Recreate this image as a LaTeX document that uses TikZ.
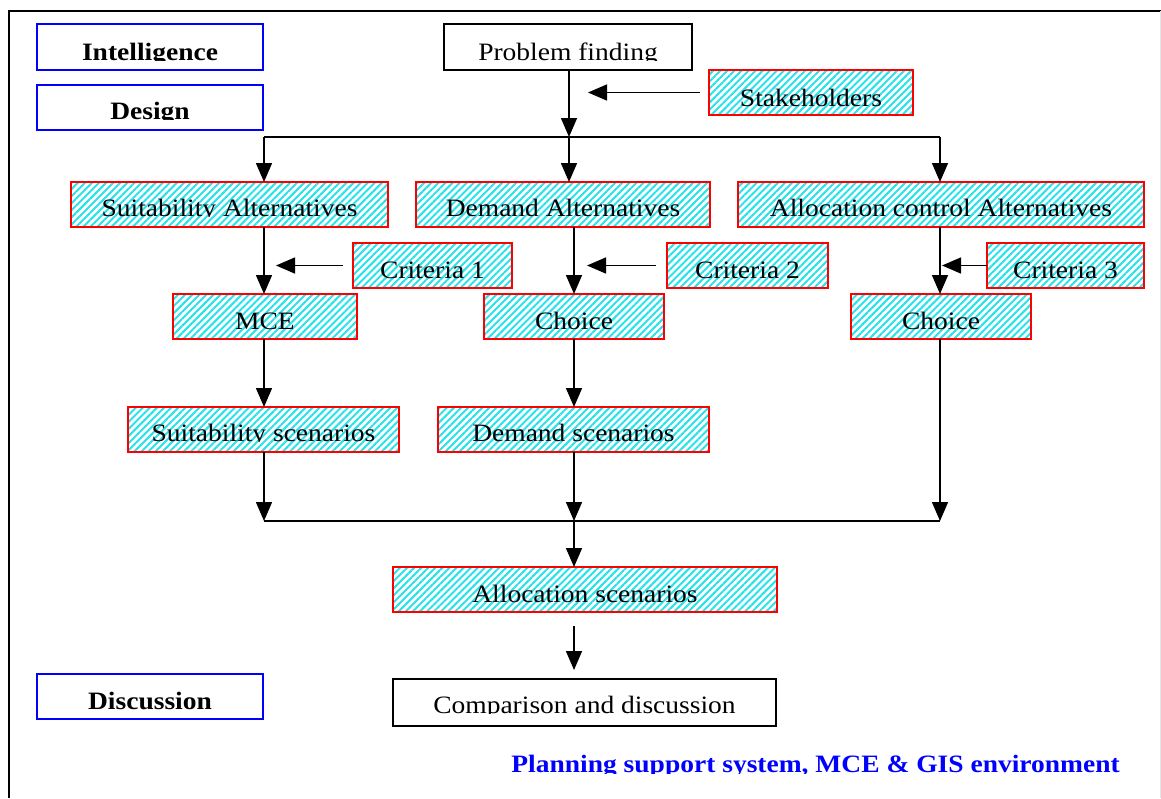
\documentclass[tikz,border=0pt]{standalone}
\usepackage{fontspec}
\setmainfont{Liberation Serif}[FakeStretch=1.1]
\usetikzlibrary{arrows.meta,patterns.meta}
\definecolor{hatchcol}{RGB}{40,225,235}
\tikzset{
  every node/.style={font=\fontsize{25}{30}\selectfont},
  basebox/.style={rectangle, inner sep=0pt, outer sep=0pt, line width=1.6pt},
  hatchbox/.style={basebox, draw=red, pattern={Lines[angle=45,distance=5pt,line width=2pt]}, pattern color=hatchcol},
  plainbox/.style={basebox, draw=black},
  phasebox/.style={basebox, draw=blue},
  txt/.style={anchor=base, inner sep=0pt},
  conn/.style={line width=1.5pt},
  arr/.style={conn, -{Triangle[length=19pt,width=16pt]}}
}
% name, style, x1, y1, x2, y2, baseline offset, text
\newcommand\mybox[8]{%
  \node[#2, minimum width={#5-#3}, minimum height={#6-#4}] (#1) at ({(#3+#5)/2},{(#4+#6)/2}) {};
  \begin{scope}
    \clip ([xshift=1pt,yshift=-1pt]#1.north west) rectangle ([xshift=-1pt,yshift=#7pt-0.5pt]#1.south east);
    \node[txt] (#1t) at ([yshift=#7pt]#1.south) {#8};
  \end{scope}}
\begin{document}
\begin{tikzpicture}[x=1pt,y=-1pt]
\useasboundingbox (0,0) rectangle (1161,798);
% frame
\draw[line width=2pt] (9,798) -- (9,11) -- (1161,11);
\draw[gray!20, line width=1pt] (1160,11) -- (1160,798);
% phase labels
\mybox{intel}{phasebox}{37}{24}{263}{70}{10}{\textbf{Intelligence}}
\mybox{design}{phasebox}{37}{85}{263}{130}{11}{\textbf{Design}}
\mybox{disc}{phasebox}{37}{674}{263}{719}{10}{\textbf{Discussion}}
% boxes
\mybox{pf}{plainbox}{444}{24}{692}{70}{10}{Problem finding}
\mybox{stk}{hatchbox}{709}{70}{913}{115}{9}{Stakeholders}
\mybox{sa}{hatchbox}{71}{182}{388}{227}{11}{Suitability Alternatives}
\mybox{da}{hatchbox}{416}{182}{710}{227}{11}{Demand Alternatives}
\mybox{ac}{hatchbox}{738}{182}{1144}{227}{11}{Allocation control Alternatives}
\mybox{c1}{hatchbox}{353}{243}{512}{288}{10}{Criteria 1}
\mybox{c2}{hatchbox}{667}{243}{828}{288}{10}{Criteria 2}
\mybox{c3}{hatchbox}{987}{243}{1144}{288}{10}{Criteria 3}
\mybox{mce}{hatchbox}{173}{294}{357}{339}{10}{MCE}
\mybox{ch2}{hatchbox}{484}{294}{664}{339}{10}{Choice}
\mybox{ch3}{hatchbox}{851}{294}{1031}{339}{10}{Choice}
\mybox{ss}{hatchbox}{128}{407}{399}{452}{11}{Suitability scenarios}
\mybox{ds}{hatchbox}{438}{407}{709}{452}{11}{Demand scenarios}
\mybox{as}{hatchbox}{393}{567}{777}{612}{10}{Allocation scenarios}
\mybox{cd}{plainbox}{393}{679}{776}{726}{13}{Comparison and discussion}
% junction coordinates
\coordinate (tl) at (264,137);
\coordinate (tm) at (569,137);
\coordinate (tr) at (940,137);
\coordinate (jl) at (264,521);
\coordinate (jm) at (574,521);
\coordinate (jr) at (940,521);
% connectors
\draw[arr] (pf.south -| tm) -- (tm);
\draw[arr] ([xshift=-9pt]stk.west) -- ++(-112,0);
\draw[conn] (tl) -- (tr);
\draw[arr] (tl) -- (tl |- sa.north);
\draw[arr] (tm) -- (tm |- da.north);
\draw[arr] (tr) -- (tr |- ac.north);
\draw[arr] (tl |- sa.south) -- (tl |- mce.north);
\draw[arr] (ch2.north |- da.south) -- (ch2.north);
\draw[arr] (tr |- ac.south) -- (tr |- ch3.north);
\draw[arr] ([xshift=-10pt]c1.west) -- ++(-67,0);
\draw[arr] ([xshift=-11pt]c2.west) -- ++(-69,0);
\draw[arr] (c3.west) -- ++(-45,0);
\draw[arr] (tl |- mce.south) -- (tl |- ss.north);
\draw[arr] (ch2.south) -- (ch2.south |- ds.north);
\draw[arr] (tl |- ss.south) -- (jl);
\draw[arr] (jm |- ds.south) -- (jm);
\draw[arr] (tr |- ch3.south) -- (jr);
\draw[conn] (jl) -- (jr);
\draw[arr] (jm) -- (jm |- as.north);
\draw[arr] ([yshift=-14pt]jm |- as.south) -- ([yshift=9pt]jm |- cd.north);
% environment label
\begin{scope}
  \clip (400,735) rectangle (1158,773);
  \node[txt, anchor=base east, text=blue] (env) at (1120,772) {\textbf{Planning support system, MCE \& GIS environment}};
\end{scope}
\end{tikzpicture}
\end{document}
